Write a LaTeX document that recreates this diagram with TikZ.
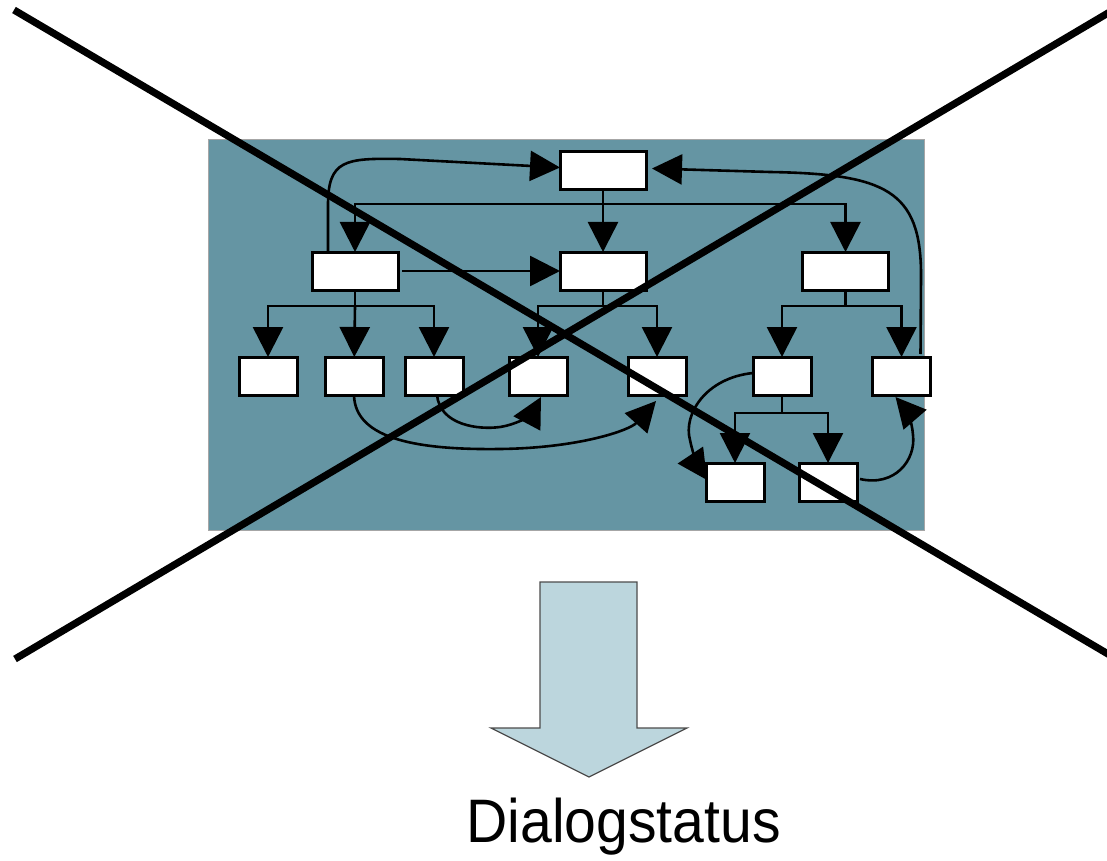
\documentclass[tikz,border=0pt]{standalone}
\usepackage{fontspec}
\setmainfont{Liberation Sans}
\usetikzlibrary{arrows.meta,calc}
\definecolor{panel}{RGB}{101,149,163}
\definecolor{arrowfill}{RGB}{188,214,221}
\begin{document}
\begin{tikzpicture}[x=0.5pt,y=-0.5pt,
  box/.style={draw=black,fill=white,line width=1.5pt,inner sep=0pt,outer sep=0pt},
  wide/.style={box,minimum width=43pt,minimum height=19pt},
  small/.style={box,minimum width=29pt,minimum height=19pt},
  link/.style={line width=1.3pt},
  arr/.style={link,-{Triangle[length=15pt,width=15pt]}},
  cross/.style={line width=3.6pt}]
\useasboundingbox (0,0) rectangle (1107,861);

% panel
\draw[fill=panel,draw=black!35,line width=0.4pt] (208,139) rectangle (924,530);

% boxes
\node[wide] (A) at (603,170.5) {};
\node[wide] (B) at (355,271) {};
\node[wide] (C) at (603,271) {};
\node[wide] (D) at (845.5,271) {};
\node[small] (E1) at (268,376) {};
\node[small] (E2) at (354,376) {};
\node[small] (E3) at (434,376) {};
\node[small] (E4) at (538,376) {};
\node[small] (E5) at (657,376) {};
\node[small] (G1) at (782,376) {};
\node[small] (G2) at (901.5,376) {};
\node[small] (H1) at (735,482) {};
\node[small] (H2) at (828,482) {};

% junctions of the trees
\coordinate (jA) at (603,204);
\coordinate (jB) at (355,306);
\coordinate (jC) at (603,306);
\coordinate (jD) at (845.5,306);
\coordinate (jG) at (782,413);

% tree from A
\draw[arr] (A) -- (C);
\draw[arr] (jA) -| (B);
\draw[arr] (jA) -| (D);
% tree from B
\draw[link] (B) -- (jB);
\draw[arr] (jB) -| (E1);
\draw[arr] (jB) -- (E2);
\draw[arr] (jB) -| (E3);
% tree from C
\draw[link] (C) -- (jC);
\draw[arr] (jC) -| (E4);
\draw[arr] (jC) -| (E5);
% tree from D
\draw[link] (D) -- (jD);
\draw[arr] (jD) -| (G1);
\draw[arr] (jD) -| (G2);
% tree from G1
\draw[link] (G1) -- (jG);
\draw[arr] (jG) -| (H1);
\draw[arr] (jG) -| (H2);

% B -> C
\draw[arr,shorten <=2pt] (B.east) -- (C.west);

% B -> A (loop over the top)
\coordinate (bs) at ($(B.north)+(-27,0)$);
\draw[arr] (bs) -- (328,205) .. controls (328,160) and (345,158) .. (400,159) -- ($(A.west)+(0,-3)$);

% G2 -> A (loop on the right)
\coordinate (gs) at ($(G2.north east)+(-10,-3)$);
\draw[arr] (gs) -- (921,275) .. controls (921,190) and (885,174) .. (770,172) -- ($(A.east)+(6,-2)$);

% lower curved links
\draw[arr] (E2.south) .. controls (355,440) and (420,450) .. (500,449)
  .. controls (580,448) and (630,430) .. ($(E5.south)+(-1,6)$);
\draw[arr] ($(E3.south)+(3,0)$) .. controls (440,425) and (478,430) .. (500,427)
  .. controls (520,424) and (533,412) .. ($(E4.south)+(3,2)$);
\draw[arr] ($(G1.west)+(0,-3)$) .. controls (705,378) and (683,415) .. (690,440)
  .. controls (693,455) and (699,468) .. ($(H1.west)+(1,-2)$);
\draw[arr] ($(H2.east)+(3,-3)$) .. controls (895,487) and (916,460) .. (913,435)
  .. controls (912,420) and (905,408) .. ($(G2.south)+(-6,2)$);

% crossing out
\draw[cross] (14,10) -- (1125,664);
\draw[cross] (15,659) -- (1125,3);

% block arrow and caption
\draw[draw=black!70,line width=0.6pt,fill=arrowfill]
  (540,582) -- (637,582) -- (637,728) -- (687,728) -- (589,777) -- (491,728) -- (540,728) -- cycle;
\node[anchor=base,inner sep=0pt,font=\fontsize{30.7}{36}\selectfont] (label) at (623.5,842) {\scalebox{0.93}[1]{Dialogstatus}};
\end{tikzpicture}
\end{document}
